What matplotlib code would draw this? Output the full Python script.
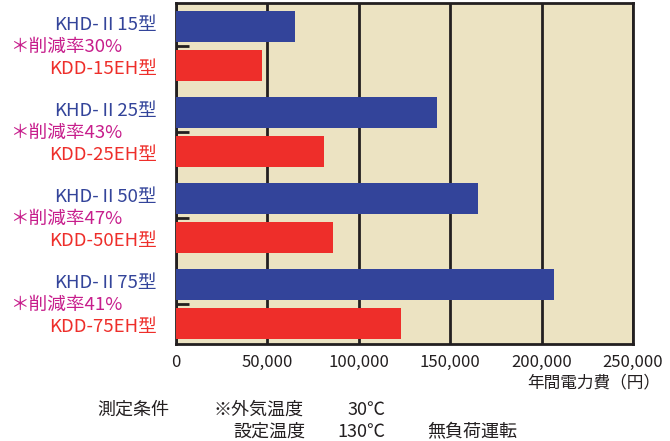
import matplotlib
matplotlib.use("Agg")
import matplotlib.pyplot as plt
import matplotlib.transforms as mtransforms

plt.rcParams['font.family'] = ['Noto Sans CJK JP', 'DejaVu Sans']

# data
old_models = ["KHD-Ⅱ15型", "KHD-Ⅱ25型", "KHD-Ⅱ50型", "KHD-Ⅱ75型"]
new_models = ["KDD-15EH型", "KDD-25EH型", "KDD-50EH型", "KDD-75EH型"]
rates = ["＊削減率30%", "＊削減率43%", "＊削減率47%", "＊削減率41%"]
old_cost = [65000, 142500, 165000, 207000]
new_cost = [47000, 81000, 86000, 123000]
xticks = [0, 50000, 100000, 150000, 200000, 250000]
xticklabels = ["0", "50,000", "100,000", "150,000", "200,000", "250,000"]

blue = "#33449A"
red = "#EE2E2A"
magenta = "#C71E8C"
dark = "#231F20"

fig = plt.figure(figsize=(6.7, 4.41), dpi=100)
ax = fig.add_axes([0.2627, 0.22, 0.6821, 0.773])
ax.set_facecolor("#ECE3C2")

n = len(old_cost)
y_old = [i + 0.27 for i in range(n)]
y_new = [i + 0.73 for i in range(n)]
ax.barh(y_old, old_cost, height=0.36, color=blue, zorder=3)
ax.barh(y_new, new_cost, height=0.36, color=red, zorder=3)

ax.set_xlim(0, 250000)
ax.set_ylim(3.965, 0)
ax.set_xticks(xticks)
ax.set_xticklabels(xticklabels, fontsize=12, color=dark)
ax.tick_params(axis="x", length=0, pad=7)
ax.set_yticks([i + 0.5 for i in range(n)])
ax.set_yticklabels([])
ax.tick_params(axis="y", direction="in", length=9, width=2, color=dark)
ax.grid(axis="x", color=dark, linewidth=2, zorder=1)
for s in ax.spines.values():
    s.set_linewidth(2)
    s.set_color(dark)

# model labels on the left
tr = mtransforms.blended_transform_factory(fig.transFigure, ax.transData)
for i in range(n):
    ax.text(157 / 670, i + 0.26, old_models[i], transform=tr, ha="right", va="center",
            fontsize=13.4, color=blue)
    ax.text(122 / 670, i + 0.51, rates[i], transform=tr, ha="right", va="center",
            fontsize=13.4, color=magenta)
    ax.text(157 / 670, i + 0.77, new_models[i], transform=tr, ha="right", va="center",
            fontsize=13.4, color=red)

fig.text(660 / 670, 1 - 383 / 441, "年間電力費（円）", ha="right", va="center",
         fontsize=12, color=dark)

# measurement conditions
fs = 13
fig.text(97 / 670, 1 - 410 / 441, "測定条件", ha="left", va="center", fontsize=fs, color=dark)
fig.text(213 / 670, 1 - 410 / 441, "※外気温度", ha="left", va="center", fontsize=fs, color=dark)
fig.text(385 / 670, 1 - 410 / 441, "30℃", ha="right", va="center", fontsize=fs, color=dark)
fig.text(233 / 670, 1 - 432 / 441, "設定温度", ha="left", va="center", fontsize=fs, color=dark)
fig.text(385 / 670, 1 - 432 / 441, "130℃", ha="right", va="center", fontsize=fs, color=dark)
fig.text(427 / 670, 1 - 432 / 441, "無負荷運転", ha="left", va="center", fontsize=fs, color=dark)

fig.savefig("out.png", dpi=100)
